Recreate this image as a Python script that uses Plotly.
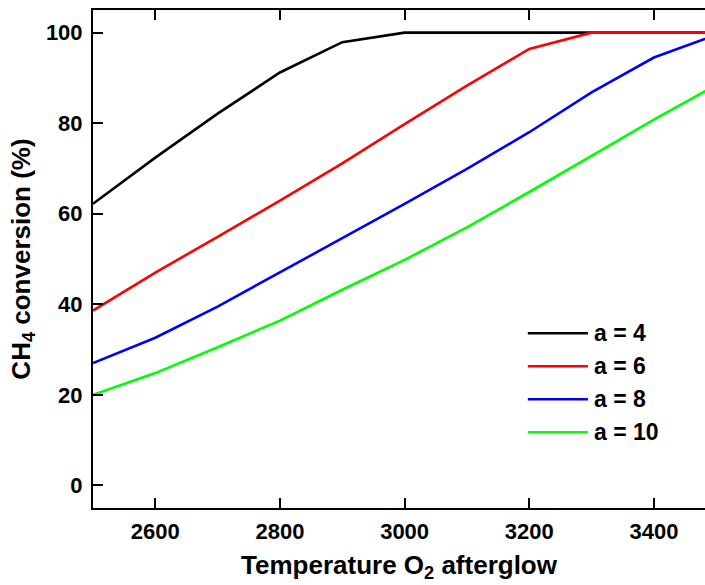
import plotly.graph_objects as go

temperature = [2500, 2600, 2700, 2800, 2900, 3000, 3100, 3200, 3300, 3400, 3500]
conv_a4 = [62.2, 72.4, 82.1, 91.2, 97.9, 100, 100, 100, 100, 100, 100]
conv_a6 = [38.6, 47.0, 54.9, 62.9, 71.1, 79.8, 88.3, 96.4, 100, 100, 100]
conv_a8 = [27.0, 32.6, 39.5, 47.0, 54.6, 62.2, 69.9, 78.0, 86.8, 94.5, 99.5]
conv_a10 = [20.0, 24.8, 30.5, 36.4, 43.2, 49.8, 57.0, 64.8, 72.8, 80.8, 88.4]
series_names = ["a = 4", "a = 6", "a = 8", "a = 10"]
series_colors = ["#000000", "#ff0000", "#0000ff", "#00ff00"]
x_ticks = [2600, 2800, 3000, 3200, 3400]
y_ticks = [0, 20, 40, 60, 80, 100]

FONT = "Liberation Sans, Arial, sans-serif"

fig = go.Figure()
for name, color, ys in zip(series_names, series_colors,
                           [conv_a4, conv_a6, conv_a8, conv_a10]):
    fig.add_trace(go.Scatter(x=temperature, y=ys, mode="lines", name=name,
                             line=dict(color=color, width=2.6),
                             showlegend=False))

# custom legend (long line samples like the reference)
leg_x0, leg_x1, leg_tx = 0.7105, 0.8087, 0.816
leg_y = [0.351, 0.2847, 0.2184, 0.152]
for name, color, yy in zip(series_names, series_colors, leg_y):
    fig.add_shape(type="line", xref="paper", yref="paper",
                  x0=leg_x0, x1=leg_x1, y0=yy, y1=yy,
                  line=dict(color=color, width=2.6))
    fig.add_annotation(xref="paper", yref="paper", x=leg_tx, y=yy,
                       text=name, showarrow=False, xanchor="left",
                       yanchor="middle",
                       font=dict(family=FONT, size=23, color="black",
                                 weight="bold"))

axis_common = dict(showline=True, linecolor="black", linewidth=2,
                   ticks="inside", ticklen=10, tickwidth=2, tickcolor="black",
                   showgrid=False, zeroline=False,
                   tickfont=dict(family=FONT, size=22, color="black",
                                 weight="bold"))

fig.update_xaxes(range=[2500, 3482], tickvals=x_ticks, mirror="ticks",
                 ticklabelstandoff=3,
                 title=dict(text="Temperature O<sub>2</sub> afterglow",
                            font=dict(family=FONT, size=26, color="black",
                                      weight="bold"), standoff=12),
                 **axis_common)
fig.update_yaxes(range=[-5, 105], tickvals=y_ticks, mirror=False,
                 ticklabelstandoff=4,
                 title=dict(text="CH<sub>4</sub> conversion (%)",
                            font=dict(family=FONT, size=26, color="black",
                                      weight="bold"), standoff=8),
                 **axis_common)

fig.update_layout(width=705, height=585,
                  margin=dict(l=93, r=0, t=10, b=77, autoexpand=False),
                  plot_bgcolor="white", paper_bgcolor="white",
                  font=dict(family=FONT, color="black"))

fig.write_html("out.html")
